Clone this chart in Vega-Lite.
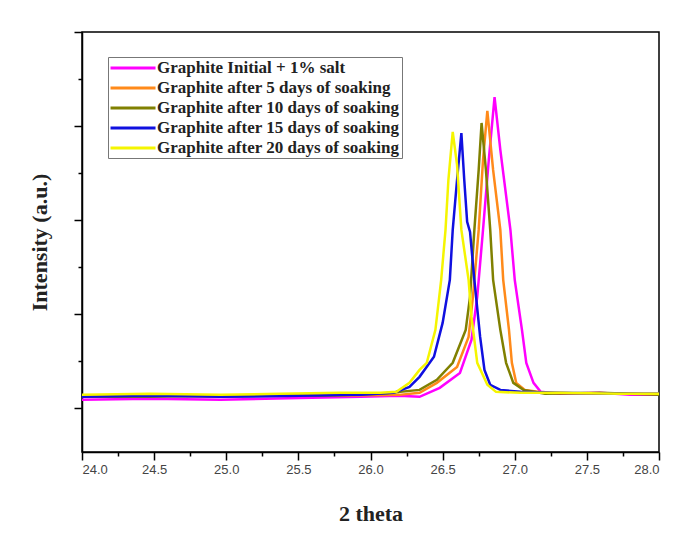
{
  "$schema": "https://vega.github.io/schema/vega-lite/v6.json",
  "width": 577,
  "height": 420,
  "autosize": {"type": "none"},
  "padding": {"left": 82, "top": 32, "right": 30, "bottom": 85},
  "background": "white",
  "config": {"view": {"stroke": "black", "strokeWidth": 1.5}},
  "datasets": {
    "xrd": [
      {"s": "Graphite Initial + 1% salt", "x": 24.0, "y": 85},
      {"s": "Graphite Initial + 1% salt", "x": 24.47, "y": 96},
      {"s": "Graphite Initial + 1% salt", "x": 24.96, "y": 85},
      {"s": "Graphite Initial + 1% salt", "x": 25.51, "y": 106},
      {"s": "Graphite Initial + 1% salt", "x": 25.93, "y": 117},
      {"s": "Graphite Initial + 1% salt", "x": 26.2, "y": 128},
      {"s": "Graphite Initial + 1% salt", "x": 26.34, "y": 117},
      {"s": "Graphite Initial + 1% salt", "x": 26.48, "y": 213},
      {"s": "Graphite Initial + 1% salt", "x": 26.62, "y": 372},
      {"s": "Graphite Initial + 1% salt", "x": 26.7, "y": 723},
      {"s": "Graphite Initial + 1% salt", "x": 26.74, "y": 1181},
      {"s": "Graphite Initial + 1% salt", "x": 26.78, "y": 1894},
      {"s": "Graphite Initial + 1% salt", "x": 26.82, "y": 2638},
      {"s": "Graphite Initial + 1% salt", "x": 26.86, "y": 3308},
      {"s": "Graphite Initial + 1% salt", "x": 26.9, "y": 2745},
      {"s": "Graphite Initial + 1% salt", "x": 26.97, "y": 1894},
      {"s": "Graphite Initial + 1% salt", "x": 27.0, "y": 1362},
      {"s": "Graphite Initial + 1% salt", "x": 27.05, "y": 830},
      {"s": "Graphite Initial + 1% salt", "x": 27.08, "y": 479},
      {"s": "Graphite Initial + 1% salt", "x": 27.13, "y": 266},
      {"s": "Graphite Initial + 1% salt", "x": 27.18, "y": 170},
      {"s": "Graphite Initial + 1% salt", "x": 27.31, "y": 149},
      {"s": "Graphite Initial + 1% salt", "x": 27.59, "y": 160},
      {"s": "Graphite Initial + 1% salt", "x": 27.8, "y": 138},
      {"s": "Graphite Initial + 1% salt", "x": 28.0, "y": 138},

      {"s": "Graphite after 5 days of soaking", "x": 24.0, "y": 117},
      {"s": "Graphite after 5 days of soaking", "x": 24.47, "y": 128},
      {"s": "Graphite after 5 days of soaking", "x": 24.96, "y": 117},
      {"s": "Graphite after 5 days of soaking", "x": 25.37, "y": 138},
      {"s": "Graphite after 5 days of soaking", "x": 25.79, "y": 128},
      {"s": "Graphite after 5 days of soaking", "x": 26.2, "y": 138},
      {"s": "Graphite after 5 days of soaking", "x": 26.34, "y": 160},
      {"s": "Graphite after 5 days of soaking", "x": 26.46, "y": 266},
      {"s": "Graphite after 5 days of soaking", "x": 26.6, "y": 436},
      {"s": "Graphite after 5 days of soaking", "x": 26.68, "y": 755},
      {"s": "Graphite after 5 days of soaking", "x": 26.71, "y": 1181},
      {"s": "Graphite after 5 days of soaking", "x": 26.75, "y": 1894},
      {"s": "Graphite after 5 days of soaking", "x": 26.78, "y": 2638},
      {"s": "Graphite after 5 days of soaking", "x": 26.81, "y": 3160},
      {"s": "Graphite after 5 days of soaking", "x": 26.85, "y": 2532},
      {"s": "Graphite after 5 days of soaking", "x": 26.9, "y": 1894},
      {"s": "Graphite after 5 days of soaking", "x": 26.92, "y": 1362},
      {"s": "Graphite after 5 days of soaking", "x": 26.96, "y": 830},
      {"s": "Graphite after 5 days of soaking", "x": 26.98, "y": 479},
      {"s": "Graphite after 5 days of soaking", "x": 27.01, "y": 266},
      {"s": "Graphite after 5 days of soaking", "x": 27.07, "y": 191},
      {"s": "Graphite after 5 days of soaking", "x": 27.21, "y": 160},
      {"s": "Graphite after 5 days of soaking", "x": 27.59, "y": 149},
      {"s": "Graphite after 5 days of soaking", "x": 28.0, "y": 149},

      {"s": "Graphite after 10 days of soaking", "x": 24.0, "y": 117},
      {"s": "Graphite after 10 days of soaking", "x": 24.47, "y": 117},
      {"s": "Graphite after 10 days of soaking", "x": 24.82, "y": 128},
      {"s": "Graphite after 10 days of soaking", "x": 25.23, "y": 138},
      {"s": "Graphite after 10 days of soaking", "x": 25.65, "y": 128},
      {"s": "Graphite after 10 days of soaking", "x": 26.07, "y": 149},
      {"s": "Graphite after 10 days of soaking", "x": 26.34, "y": 191},
      {"s": "Graphite after 10 days of soaking", "x": 26.46, "y": 298},
      {"s": "Graphite after 10 days of soaking", "x": 26.57, "y": 479},
      {"s": "Graphite after 10 days of soaking", "x": 26.66, "y": 830},
      {"s": "Graphite after 10 days of soaking", "x": 26.69, "y": 1181},
      {"s": "Graphite after 10 days of soaking", "x": 26.72, "y": 1894},
      {"s": "Graphite after 10 days of soaking", "x": 26.75, "y": 2532},
      {"s": "Graphite after 10 days of soaking", "x": 26.77, "y": 3032},
      {"s": "Graphite after 10 days of soaking", "x": 26.8, "y": 2532},
      {"s": "Graphite after 10 days of soaking", "x": 26.83, "y": 1894},
      {"s": "Graphite after 10 days of soaking", "x": 26.85, "y": 1362},
      {"s": "Graphite after 10 days of soaking", "x": 26.9, "y": 830},
      {"s": "Graphite after 10 days of soaking", "x": 26.94, "y": 479},
      {"s": "Graphite after 10 days of soaking", "x": 26.99, "y": 266},
      {"s": "Graphite after 10 days of soaking", "x": 27.06, "y": 191},
      {"s": "Graphite after 10 days of soaking", "x": 27.21, "y": 149},
      {"s": "Graphite after 10 days of soaking", "x": 27.59, "y": 160},
      {"s": "Graphite after 10 days of soaking", "x": 28.0, "y": 138},

      {"s": "Graphite after 15 days of soaking", "x": 24.0, "y": 117},
      {"s": "Graphite after 15 days of soaking", "x": 24.47, "y": 128},
      {"s": "Graphite after 15 days of soaking", "x": 24.96, "y": 117},
      {"s": "Graphite after 15 days of soaking", "x": 25.51, "y": 128},
      {"s": "Graphite after 15 days of soaking", "x": 25.93, "y": 138},
      {"s": "Graphite after 15 days of soaking", "x": 26.16, "y": 160},
      {"s": "Graphite after 15 days of soaking", "x": 26.27, "y": 223},
      {"s": "Graphite after 15 days of soaking", "x": 26.34, "y": 330},
      {"s": "Graphite after 15 days of soaking", "x": 26.44, "y": 543},
      {"s": "Graphite after 15 days of soaking", "x": 26.5, "y": 904},
      {"s": "Graphite after 15 days of soaking", "x": 26.55, "y": 1362},
      {"s": "Graphite after 15 days of soaking", "x": 26.57, "y": 1894},
      {"s": "Graphite after 15 days of soaking", "x": 26.6, "y": 2425},
      {"s": "Graphite after 15 days of soaking", "x": 26.63, "y": 2925},
      {"s": "Graphite after 15 days of soaking", "x": 26.65, "y": 2425},
      {"s": "Graphite after 15 days of soaking", "x": 26.67, "y": 1979},
      {"s": "Graphite after 15 days of soaking", "x": 26.69, "y": 1872},
      {"s": "Graphite after 15 days of soaking", "x": 26.72, "y": 1362},
      {"s": "Graphite after 15 days of soaking", "x": 26.76, "y": 755},
      {"s": "Graphite after 15 days of soaking", "x": 26.79, "y": 404},
      {"s": "Graphite after 15 days of soaking", "x": 26.83, "y": 245},
      {"s": "Graphite after 15 days of soaking", "x": 26.9, "y": 191},
      {"s": "Graphite after 15 days of soaking", "x": 27.04, "y": 170},
      {"s": "Graphite after 15 days of soaking", "x": 27.31, "y": 160},
      {"s": "Graphite after 15 days of soaking", "x": 27.73, "y": 149},
      {"s": "Graphite after 15 days of soaking", "x": 28.0, "y": 149},

      {"s": "Graphite after 20 days of soaking", "x": 24.0, "y": 138},
      {"s": "Graphite after 20 days of soaking", "x": 24.47, "y": 149},
      {"s": "Graphite after 20 days of soaking", "x": 24.96, "y": 138},
      {"s": "Graphite after 20 days of soaking", "x": 25.37, "y": 149},
      {"s": "Graphite after 20 days of soaking", "x": 25.79, "y": 160},
      {"s": "Graphite after 20 days of soaking", "x": 26.07, "y": 160},
      {"s": "Graphite after 20 days of soaking", "x": 26.18, "y": 170},
      {"s": "Graphite after 20 days of soaking", "x": 26.27, "y": 266},
      {"s": "Graphite after 20 days of soaking", "x": 26.34, "y": 404},
      {"s": "Graphite after 20 days of soaking", "x": 26.39, "y": 479},
      {"s": "Graphite after 20 days of soaking", "x": 26.45, "y": 830},
      {"s": "Graphite after 20 days of soaking", "x": 26.49, "y": 1362},
      {"s": "Graphite after 20 days of soaking", "x": 26.52, "y": 1894},
      {"s": "Graphite after 20 days of soaking", "x": 26.54, "y": 2425},
      {"s": "Graphite after 20 days of soaking", "x": 26.57, "y": 2936},
      {"s": "Graphite after 20 days of soaking", "x": 26.6, "y": 2585},
      {"s": "Graphite after 20 days of soaking", "x": 26.63, "y": 1894},
      {"s": "Graphite after 20 days of soaking", "x": 26.68, "y": 1362},
      {"s": "Graphite after 20 days of soaking", "x": 26.7, "y": 968},
      {"s": "Graphite after 20 days of soaking", "x": 26.74, "y": 479},
      {"s": "Graphite after 20 days of soaking", "x": 26.81, "y": 245},
      {"s": "Graphite after 20 days of soaking", "x": 26.87, "y": 170},
      {"s": "Graphite after 20 days of soaking", "x": 27.04, "y": 160},
      {"s": "Graphite after 20 days of soaking", "x": 27.31, "y": 160},
      {"s": "Graphite after 20 days of soaking", "x": 27.73, "y": 149},
      {"s": "Graphite after 20 days of soaking", "x": 28.0, "y": 149}
    ]
  },
  "data": {"name": "xrd"},
  "mark": {"type": "line", "strokeWidth": 2.5, "clip": true},
  "encoding": {
    "x": {
      "field": "x",
      "type": "quantitative",
      "scale": {"domain": [24, 28], "nice": false, "zero": false},
      "axis": {
        "title": "2 theta",
        "titleFont": "Liberation Serif",
        "titleFontWeight": "bold",
        "titleFontSize": 22,
        "titleColor": "#222",
        "titlePadding": 27,
        "values": [24, 24.25, 24.5, 24.75, 25, 25.25, 25.5, 25.75, 26, 26.25, 26.5, 26.75, 27, 27.25, 27.5, 27.75, 28],
        "labelExpr": "(datum.value * 2) % 1 == 0 ? format(datum.value, '.1f') : ''",
        "labelFont": "Liberation Sans",
        "labelFontSize": 13,
        "labelColor": "#444",
        "labelPadding": 3,
        "tickSize": {"condition": {"test": "(datum.value * 2) % 1 == 0", "value": 8}, "value": 4},
        "tickColor": "black",
        "tickWidth": 1.5,
        "domainColor": "black",
        "domainWidth": 1.5,
        "grid": false
      }
    },
    "y": {
      "field": "y",
      "type": "quantitative",
      "scale": {"domain": [-470, 4000], "nice": false, "zero": false},
      "axis": {
        "title": "Intensity (a.u.)",
        "titleFont": "Liberation Serif",
        "titleFontWeight": "bold",
        "titleFontSize": 22,
        "titleColor": "#222",
        "titlePadding": 22,
        "labels": false,
        "values": [0, 500, 1000, 1500, 2000, 2500, 3000, 3500, 4000],
        "tickSize": {"condition": {"test": "datum.value % 1000 == 0", "value": 8}, "value": 4},
        "tickColor": "black",
        "tickWidth": 1.5,
        "domainColor": "black",
        "domainWidth": 1.5,
        "grid": false
      }
    },
    "color": {
      "field": "s",
      "type": "nominal",
      "sort": null,
      "scale": {
        "domain": ["Graphite Initial + 1% salt", "Graphite after 5 days of soaking", "Graphite after 10 days of soaking", "Graphite after 15 days of soaking", "Graphite after 20 days of soaking"],
        "range": ["#ff00ff", "#ff8a1a", "#808000", "#1010e0", "#f5f500"]
      },
      "legend": {
        "title": null,
        "orient": "none",
        "legendX": 26,
        "legendY": 25,
        "strokeColor": "#777",
        "padding": 2,
        "labelFont": "Liberation Serif",
        "labelFontWeight": "bold",
        "labelFontSize": 17,
        "labelColor": "#222",
        "labelLimit": 400,
        "symbolType": "M-1.13,0H4.87",
        "symbolSize": 225,
        "symbolStrokeWidth": 3,
        "rowPadding": 3,
        "labelOffset": 29
      }
    }
  }
}
